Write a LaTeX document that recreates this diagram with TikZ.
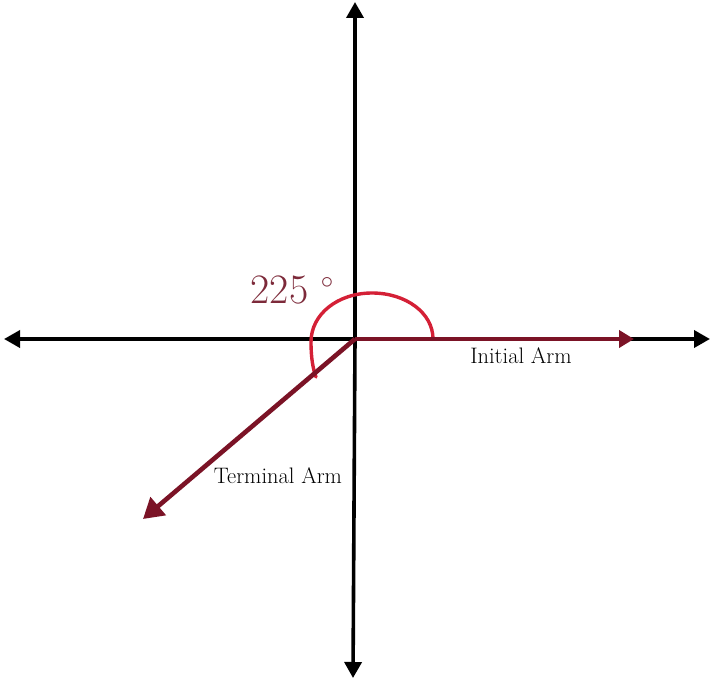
\documentclass[tikz,border=0pt]{standalone}
\usetikzlibrary{arrows.meta}
\definecolor{armred}{HTML}{7B1326}
\definecolor{arcred}{HTML}{D42036}
\definecolor{degred}{HTML}{7D2A3A}
\tikzset{
  axis/.style={line width=3.6bp,black,-{Triangle[length=16bp,width=17bp]}},
  arm/.style={line width=4.6bp,armred,-{Triangle[length=15bp,width=17bp]}},
  armlabel/.style={font=\fontsize{22.5}{26}\selectfont,inner sep=0pt}
}
\begin{document}
\begin{tikzpicture}[x=1bp,y=-1bp]
  \useasboundingbox (0,0) rectangle (720,689);
  \fill[white] (0,0) rectangle (720,689);
  \coordinate (O) at (355,339);
  \coordinate (xl) at (4,339);
  \coordinate (xr) at (710,339);
  \coordinate (yt) at (355,2);
  \coordinate (yb) at (353,678);
  \coordinate (ia) at (634,339);
  \coordinate (ta) at (143,519);
  % axes
  \draw[axis] (O) -- (xl);
  \draw[axis] (O) -- (xr);
  \draw[axis] (O) -- (yt);
  \draw[axis] (O) -- (yb);
  % angle mark
  \draw[arcred,line width=3.4bp,line cap=round]
    (433,339) .. controls (433,313) and (406,293) .. (372,293)
    .. controls (338,293) and (311,314) .. (311,342)
    .. controls (311,358) and (313,369) .. (316,377);
  % arms
  \draw[arm] (O) -- (ia);
  \draw[arm,-{Triangle[length=20bp,width=23bp]}] (O) -- (ta);
  \node[armlabel] (init) at (521,356) {Initial Arm};
  \node[armlabel] (term) at (278,476) {Terminal Arm};
  \node[degred,font=\fontsize{42}{46}\selectfont,inner sep=0pt] (deg) at (292,290)
    {225 \raisebox{0.36em}{$\scriptstyle\circ$}};
\end{tikzpicture}
\end{document}
